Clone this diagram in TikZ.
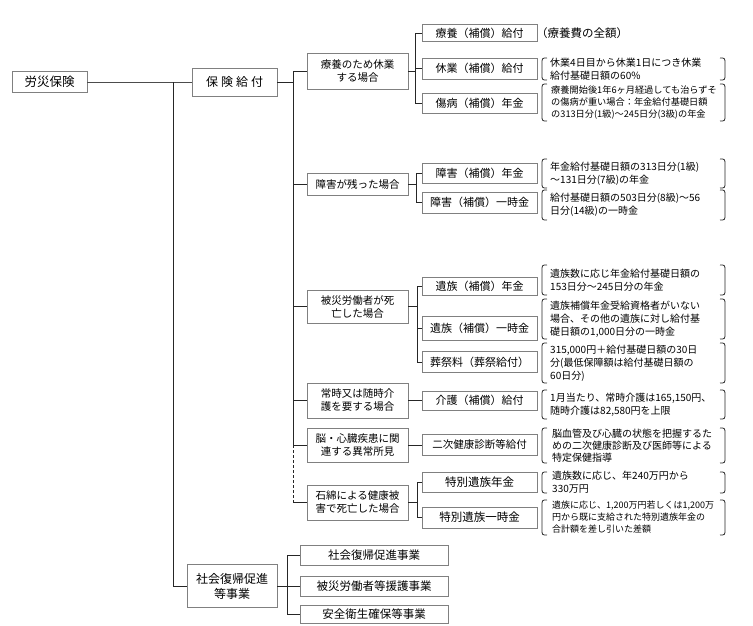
\documentclass[tikz,border=0pt]{standalone}
\usepackage{fontspec}
\setmainfont{Noto Sans CJK JP}
\newcommand\myfs[2]{\fontsize{#1}{#2}\selectfont}
\newcommand\brkt[2]{%
  \draw[brk] (547,#1) .. controls (542,#1) .. (542,#1+6) -- (542,#2-6) .. controls (542,#2) .. (547,#2);
  \draw[brk] (720,#1) .. controls (725,#1) .. (725,#1+6) -- (725,#2-6) .. controls (725,#2) .. (720,#2);}
\begin{document}
\begin{tikzpicture}[x=1pt,y=-1pt,
  box/.style={draw=black!50,line width=0.6pt,fill=white,inner sep=0pt,align=center},
  c2/.style={box,minimum width=101pt,font=\myfs{10.5}{13}},
  c3/.style={box,minimum width=115pt,font=\myfs{11}{13}},
  c4/.style={box,minimum width=148pt,font=\myfs{11.5}{13}},
  note/.style={anchor=west,align=left,inner sep=0pt,font=\myfs{10}{13}},
  small/.style={note,font=\myfs{9.2}{12}},
  wire/.style={draw=black!85,line width=0.7pt},
  brk/.style={draw=black!85,line width=0.8pt}
]
\useasboundingbox (0,0) rectangle (753,625);

% level 1 and 2
\node[box,minimum width=75pt,minimum height=21pt,font=\myfs{12.5}{14}] (rousai) at (49.5,82) {労災保険};
\node[box,minimum width=85pt,minimum height=28pt,font=\myfs{12}{14}] (hoken) at (234.5,82) {保\hspace{3pt}険\hspace{3pt}給\hspace{3pt}付};
\node[box,minimum width=90pt,minimum height=43pt,font=\myfs{12}{15}] (shakai) at (232,586) {社会復帰促進\\等事業};

% column 2
\node[c2,minimum height=36pt] (ryoyo) at (357.5,71) {療養のため休業\\する場合};
\node[c2,minimum height=22pt] (shogai) at (357.5,184) {障害が残った場合};
\node[c2,minimum height=33pt] (shibo) at (357.5,306.5) {被災労働者が死\\亡した場合};
\node[c2,minimum height=35pt] (kaigo) at (357.5,400.5) {常時又は随時介\\護を要する場合};
\node[c2,minimum height=34pt] (nou) at (357.5,445) {脳・心臓疾患に関\\連する異常所見};
\node[c2,minimum height=35pt] (ishi) at (357.5,502.5) {石綿による健康被\\害で死亡した場合};

% column 3
\node[c3,minimum height=17pt] (r1) at (479.5,33) {療養（補償）給付};
\node[c3,minimum height=21pt] (r2) at (479.5,68.5) {休業（補償）給付};
\node[c3,minimum height=20pt] (r3) at (479.5,103) {傷病（補償）年金};
\node[c3,minimum height=20pt] (s1) at (479.5,173) {障害（補償）年金};
\node[c3,minimum height=21pt] (s2) at (479.5,202.5) {障害（補償）一時金};
\node[c3,minimum height=18pt] (d1) at (479.5,286) {遺族（補償）年金};
\node[c3,minimum height=24pt] (d2) at (479.5,328) {遺族（補償）一時金};
\node[c3,minimum height=21pt] (d3) at (479.5,362) {葬祭料（葬祭給付）};
\node[c3,minimum height=19pt] (k1) at (479.5,400.5) {介護（補償）給付};
\node[c3,minimum height=21pt,font=\myfs{10.5}{13}] (n1) at (479.5,445) {二次健康診断等給付};
\node[c3,minimum height=20pt,font=\myfs{11.5}{13}] (i1) at (479.5,482) {特別遺族年金};
\node[c3,minimum height=21pt,font=\myfs{11.5}{13}] (i2) at (479.5,517.5) {特別遺族一時金};

% bottom group
\node[c4,minimum height=20pt] (b1) at (374,555) {社会復帰促進事業};
\node[c4,minimum height=20pt] (b2) at (374,586) {被災労働者等援護事業};
\node[c4,minimum height=18pt] (b3) at (374,614) {安全衛生確保等事業};

% trunk 1
\coordinate (ta) at (173,82);
\draw[wire,draw=black!70,line width=0.6pt] (rousai.east) -- (hoken.west);
\draw[wire] (ta) |- (shakai.west);

% trunk 2
\coordinate (tb) at (293,71);
\coordinate (tc) at (293,445);
\coordinate (td) at (293,502.5);
\draw[wire] (hoken.east) -- (hoken.east -| tb);
\draw[wire] (ryoyo.west) -- (tb) -- (tc) -- (nou.west);
\draw[wire] (shogai.west) -- (shogai.west -| tb);
\draw[wire] (shibo.west) -- (shibo.west -| tb);
\draw[wire] (kaigo.west) -- (kaigo.west -| tb);
\draw[wire,dash pattern=on 3pt off 2pt] (tc) -- (td);
\draw[wire] (td) -- (ishi.west);

% groups column 2 -> column 3
\coordinate (ga) at (415,0);
\draw[wire] (r1.west) -| (ga |- r3.west) -- (r3.west);
\draw[wire] (r2.west) -- (r2.west -| ga);
\draw[wire] (ryoyo.east) -- (ryoyo.east -| ga);

\coordinate (gb) at (416,0);
\draw[wire] (s1.west) -| (gb |- s2.west) -- (s2.west);
\draw[wire] (shogai.east) -- (shogai.east -| gb);

\coordinate (gc) at (417,0);
\draw[wire] (d1.west) -| (gc |- d3.west) -- (d3.west);
\draw[wire] (d2.west) -- (d2.west -| gc);
\draw[wire] (shibo.east) -- (shibo.east -| gc);

\draw[wire] (kaigo.east) -- (k1.west);
\draw[wire] (nou.east) -- (n1.west);

\coordinate (gd) at (417,0);
\draw[wire] (i1.west) -| (gd |- i2.west) -- (i2.west);
\draw[wire] (ishi.east) -- (ishi.east -| gd);

\coordinate (ge) at (287,0);
\draw[wire] (b1.west) -| (ge |- b3.west) -- (b3.west);
\draw[wire] (shakai.east) -- (b2.west);

% notes
\node[note,font=\myfs{11.5}{13}] (a1) at (536,33) {（療養費の全額）};
\node[note] (a2) at (550,69) {休業4日目から休業1日につき休業\\給付基礎日額の60\%};
\brkt{58}{80}
\node[small] (a3) at (551,102.5) {療養開始後1年6ヶ月経過しても治らずそ\\の傷病が重い場合：年金給付基礎日額\\の313日分(1級)～245日分(3級)の年金};
\brkt{84}{121}
\node[note] (a4) at (550,173.5) {年金給付基礎日額の313日分(1級)\\～131日分(7級)の年金};
\brkt{159}{188}
\node[note] (a5) at (550,205) {給付基礎日額の503日分(8級)～56\\日分(14級)の一時金};
\brkt{190}{220}
\node[note] (a6) at (550,280) {遺族数に応じ年金給付基礎日額の\\153日分～245日分の年金};
\brkt{265}{295}
\node[note] (a7) at (550,319) {遺族補償年金受給資格者がいない\\場合、その他の遺族に対し給付基\\礎日額の1,000日分の一時金};
\brkt{299}{339}
\node[note] (a8) at (550,363) {315,000円＋給付基礎日額の30日\\分(最低保障額は給付基礎日額の\\60日分)};
\brkt{343}{383}
\node[note] (a9) at (550,404.5) {1月当たり、常時介護は165,150円、\\随時介護は82,580円を上限};
\brkt{390}{419}
\node[note,font=\myfs{10}{12}] (a10) at (552,445.5) {脳血管及び心臓の状態を把握するた\\めの二次健康診断及び医師等による\\特定保健指導};
\brkt{428}{463}
\node[note] (a11) at (552,482.5) {遺族数に応じ、年240万円から\\330万円};
\brkt{472}{493}
\node[small,font=\myfs{9}{12}] (a12) at (552,517.5) {遺族に応じ、1,200万円若しくは1,200万\\円から既に支給された特別遺族年金の\\合計額を差し引いた差額};
\brkt{500}{535}
\end{tikzpicture}
\end{document}
